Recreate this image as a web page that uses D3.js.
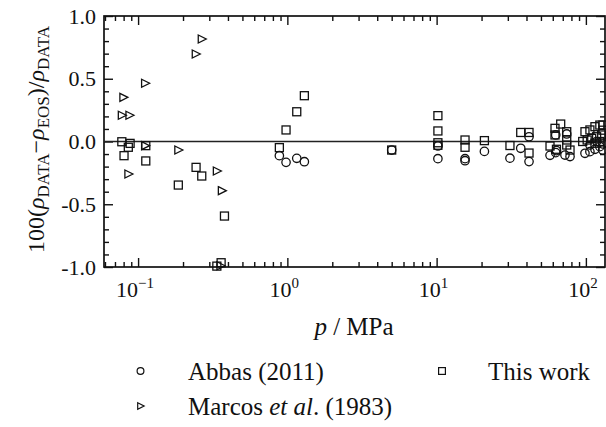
<!DOCTYPE html>
<html>
<head>
<meta charset="utf-8">
<script src="https://cdn.jsdelivr.net/npm/d3@7"></script>
</head>
<body style="margin:0;padding:0;background:#fff;">
<svg id="chart" width="606" height="427" style="display:block;"></svg>
<script>
// Relative density deviations, 100(ρDATA − ρEOS)/ρDATA, against pressure in MPa
const abbasPressure = [0.884, 0.98, 1.156, 1.30, 5.0, 10.2, 10.2, 15.5, 15.5, 20.9, 31.0, 36.6,
  41.6, 41.6, 57.5, 62.8, 62.8, 63.5, 72.4, 74.4, 78.3, 98.6, 106.4, 106.4, 115, 118, 124, 129.6, 130];
const abbasDeviation = [-0.113, -0.166, -0.134, -0.161, -0.068, -0.036, -0.137, -0.137, -0.153, -0.079, -0.133, -0.054,
  0.038, -0.160, -0.110, 0.052, -0.089, -0.073, -0.108, 0.060, -0.120, -0.094, -0.081, -0.028, -0.062, 0.000, -0.041, -0.068, -0.020];

const marcosPressure = [0.0778, 0.0797, 0.0861, 0.0875, 0.1114, 0.1114, 0.186, 0.2434, 0.267, 0.337, 0.364, 0.356];
const marcosDeviation = [0.209, 0.352, -0.259, 0.209, 0.464, -0.033, -0.068, 0.697, 0.817, -0.235, -0.392, -0.990];

const thisWorkPressure = [0.0778, 0.0805, 0.086, 0.0884, 0.1126, 0.1126, 0.186, 0.2446, 0.267, 0.337, 0.36, 0.379,
  0.884, 0.98, 1.156, 1.30, 5.0, 10.2, 10.2, 10.2, 10.2, 15.5, 15.5, 20.9, 31.0, 36.6, 41.6, 41.6,
  57.5, 62.1, 62.1, 63.5, 67.8, 74.4, 74.4, 74.4, 78.3, 95.2, 98.6, 102, 106.4, 109.4, 115, 115, 118, 124, 124, 127.6, 130, 130];
const thisWorkDeviation = [-0.002, -0.113, -0.046, -0.015, -0.033, -0.155, -0.347, -0.206, -0.275, -0.993, -0.966, -0.594,
  -0.049, 0.092, 0.237, 0.365, -0.068, 0.206, 0.084, -0.010, -0.030, 0.012, -0.046, 0.007, -0.032, 0.072, 0.072, -0.092,
  -0.036, 0.105, 0.052, -0.062, 0.139, 0.078, 0.012, -0.028, -0.068, 0.000, 0.078, 0.012, 0.092, 0.025, 0.118, -0.014, 0.038, 0.131, 0.000, 0.052, 0.131, 0.090];

// Axis ticks
const xMajorTicks = [0.1, 1, 10, 100];
const xTickExponents = ["\u22121", "0", "1", "2"];
const yMajorTicks = [-1, -0.5, 0, 0.5, 1];
const yTickLabels = ["-1.0", "-0.5", "0.0", "0.5", "1.0"];
const legendLabels = ["Abbas (2011)", "This work", "Marcos et al. (1983)"];

const FONT = '"Liberation Serif"';
const svg = d3.select("#chart");
const plot = { left: 104, right: 605, top: 16, bottom: 267 };

const x = d3.scaleLog().domain([0.0591, 134.3]).range([plot.left, plot.right]);
const y = d3.scaleLinear().domain([-1, 1]).range([plot.bottom, plot.top]);

const xMinor = [];
for (let dec = 0.01; dec < 1000; dec *= 10) {
  for (let k = 2; k <= 9; k++) {
    const v = +(k * dec).toPrecision(3);
    if (v >= x.domain()[0] && v <= x.domain()[1]) xMinor.push(v);
  }
}
const yMinor = d3.range(-10, 11).map(d => d / 10).filter(d => Math.abs(d * 2 - Math.round(d * 2)) > 1e-6);

const MAJOR = 9, MINOR = 5;
function styleAxis(g) {
  g.select(".domain").remove();
  g.selectAll(".tick line").attr("stroke", "#111").attr("stroke-width", 1.4);
  g.selectAll(".tick text").remove();
}

// Inward ticks on all four sides
svg.append("g").attr("transform", `translate(0,${plot.bottom})`)
  .call(d3.axisBottom(x).tickValues(xMajorTicks).tickSize(-MAJOR)).call(styleAxis);
svg.append("g").attr("transform", `translate(0,${plot.bottom})`)
  .call(d3.axisBottom(x).tickValues(xMinor).tickSize(-MINOR)).call(styleAxis);
svg.append("g").attr("transform", `translate(0,${plot.top})`)
  .call(d3.axisTop(x).tickValues(xMajorTicks).tickSize(-MAJOR)).call(styleAxis);
svg.append("g").attr("transform", `translate(0,${plot.top})`)
  .call(d3.axisTop(x).tickValues(xMinor).tickSize(-MINOR)).call(styleAxis);
svg.append("g").attr("transform", `translate(${plot.left},0)`)
  .call(d3.axisLeft(y).tickValues(yMajorTicks).tickSize(-MAJOR)).call(styleAxis);
svg.append("g").attr("transform", `translate(${plot.left},0)`)
  .call(d3.axisLeft(y).tickValues(yMinor).tickSize(-MINOR)).call(styleAxis);
svg.append("g").attr("transform", `translate(${plot.right},0)`)
  .call(d3.axisRight(y).tickValues(yMajorTicks).tickSize(-MAJOR)).call(styleAxis);
svg.append("g").attr("transform", `translate(${plot.right},0)`)
  .call(d3.axisRight(y).tickValues(yMinor).tickSize(-MINOR)).call(styleAxis);

// Frame
svg.append("rect")
  .attr("x", plot.left).attr("y", plot.top)
  .attr("width", plot.right - plot.left).attr("height", plot.bottom - plot.top)
  .attr("fill", "none").attr("stroke", "#111").attr("stroke-width", 1.7);

// Zero line
svg.append("line")
  .attr("x1", plot.left).attr("x2", plot.right)
  .attr("y1", y(0)).attr("y2", y(0))
  .attr("stroke", "#222").attr("stroke-width", 1.7);

// Text helper: every label carries its own serif face
function label(parent) {
  return parent.append("text").style("font-family", FONT).attr("fill", "#111");
}

// Tick labels
xMajorTicks.forEach((t, i) => {
  const tx = label(svg).attr("font-size", 22)
    .attr("x", x(t) - 3).attr("y", 297).attr("text-anchor", "middle");
  tx.append("tspan").text("10");
  tx.append("tspan").attr("font-size", 15).attr("dy", -9).text(xTickExponents[i]);
});
yMajorTicks.forEach((t, i) => {
  label(svg).attr("font-size", 22)
    .attr("x", 96).attr("y", y(t)).attr("dy", "0.35em")
    .attr("text-anchor", "end").text(yTickLabels[i]);
});

// Axis titles
const xTitle = label(svg).attr("x", 354).attr("y", 335)
  .attr("text-anchor", "middle").attr("font-size", 25);
xTitle.append("tspan").attr("font-style", "italic").text("p");
xTitle.append("tspan").text(" / MPa");

const yTitle = label(svg)
  .attr("transform", `translate(44,${(plot.top + plot.bottom) / 2 - 2}) rotate(-90)`)
  .attr("text-anchor", "middle").attr("font-size", 24);
function rhoSub(sub) {
  yTitle.append("tspan").attr("font-style", "italic").text("\u03c1");
  yTitle.append("tspan").attr("font-size", 17).attr("dy", 5).text(sub);
}
yTitle.append("tspan").text("100(");
rhoSub("DATA");
yTitle.append("tspan").attr("dy", -5).text("\u2212");
rhoSub("EOS");
yTitle.append("tspan").attr("dy", -5).text(")/");
rhoSub("DATA");

// Marker shapes
function circle(g, cx, cy, r) {
  g.append("circle").attr("cx", cx).attr("cy", cy).attr("r", r);
}
function square(g, cx, cy, h) {
  g.append("rect").attr("x", cx - h).attr("y", cy - h).attr("width", 2 * h).attr("height", 2 * h);
}
function triangle(g, cx, cy, s) {
  g.append("path").attr("d",
    `M${cx - 3.5 * s},${cy - 4 * s}L${cx + 4.5 * s},${cy}L${cx - 3.5 * s},${cy + 4 * s}Z`);
}

const marks = svg.append("g").attr("fill", "none").attr("stroke", "#111").attr("stroke-width", 1.3);
marcosPressure.forEach((p, i) => triangle(marks, x(p), y(marcosDeviation[i]), 1));
thisWorkPressure.forEach((p, i) => square(marks, x(p), y(thisWorkDeviation[i]), 4));
abbasPressure.forEach((p, i) => circle(marks, x(p), y(abbasDeviation[i]), 4.2));

// Legend
const legMarks = svg.append("g").attr("fill", "none").attr("stroke", "#111").attr("stroke-width", 1.2);
circle(legMarks, 140.5, 371, 3.4);
square(legMarks, 442, 371, 3.4);
triangle(legMarks, 140.5, 406, 0.8);
label(svg).attr("font-size", 25).attr("x", 188).attr("y", 380).text(legendLabels[0]);
label(svg).attr("font-size", 25).attr("x", 488).attr("y", 380).text(legendLabels[1]);
const m = label(svg).attr("font-size", 25).attr("x", 188).attr("y", 415);
m.append("tspan").text("Marcos ");
m.append("tspan").attr("font-style", "italic").text("et al");
m.append("tspan").text(". (1983)");
</script>
</body>
</html>
